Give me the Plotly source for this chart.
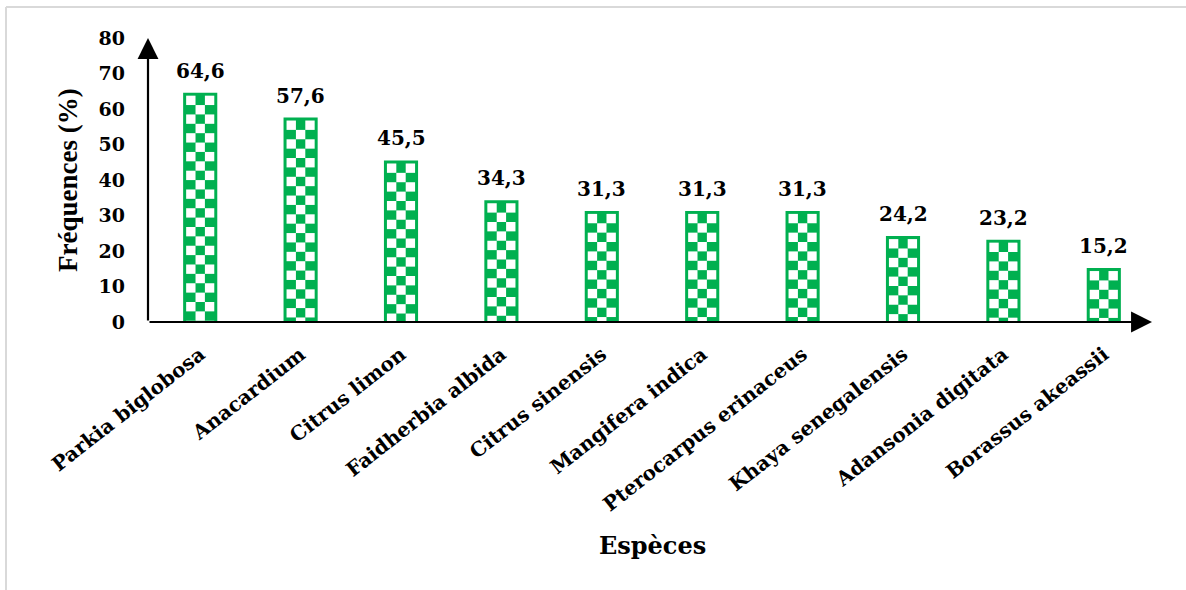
import plotly.graph_objects as go

# Species frequencies (%)
especes = ["Parkia biglobosa", "Anacardium", "Citrus limon", "Faidherbia albida",
           "Citrus sinensis", "Mangifera indica", "Pterocarpus erinaceus",
           "Khaya senegalensis", "Adansonia digitata", "Borassus akeassii"]
frequences = [64.6, 57.6, 45.5, 34.3, 31.3, 31.3, 31.3, 24.2, 23.2, 15.2]
y_ticks = [0, 10, 20, 30, 40, 50, 60, 70, 80]

W, H = 1186, 590
ML, MR, MT, MB = 148, 32, 38, 268
X0, X1 = -0.52, 9.5
Y0, Y1 = 0, 80
GREEN = "#00b050"
BAR_W = 0.34
SERIF_B = "DejaVu Serif"

plot_w = W - ML - MR
plot_h = H - MT - MB
px_x = plot_w / (X1 - X0)
px_y = plot_h / (Y1 - Y0)

fig = go.Figure()
fig.add_trace(go.Bar(
    x=list(range(len(especes))), y=frequences, width=BAR_W,
    marker=dict(color=GREEN, line=dict(width=0)),
    hoverinfo="skip", showlegend=False,
))

shapes = []
# checkerboard fill inside each bar (white cells over the green bar)
border_px = 3.0
ncols = 3
cell_px = (BAR_W * px_x - 2 * border_px) / ncols
cw = cell_px / px_x
ch = cell_px / px_y
for i, v in enumerate(frequences):
    top = v - border_px / px_y
    left = i - BAR_W / 2 + border_px / px_x
    k = 0
    while top - k * ch > 0:
        y_hi = top - k * ch
        y_lo = max(y_hi - ch, 0)
        for c in range(ncols):
            if (k + c) % 2 == 0:
                shapes.append(dict(type="rect", xref="x", yref="y",
                                   x0=left + c * cw, x1=left + (c + 1) * cw,
                                   y0=y_lo, y1=y_hi,
                                   fillcolor="white", line=dict(width=0),
                                   layer="above"))
        k += 1

# light grey frame (left and top edges)
fx = lambda px: (px - ML) / plot_w
fy = lambda py: (H - MB - py) / plot_h
shapes.append(dict(type="line", xref="paper", yref="paper",
                   x0=fx(6), x1=fx(6), y0=fy(7), y1=fy(H + 5),
                   line=dict(color="#d9d9d9", width=2)))
shapes.append(dict(type="line", xref="paper", yref="paper",
                   x0=fx(6), x1=fx(W + 5), y0=fy(7), y1=fy(7),
                   line=dict(color="#d9d9d9", width=2)))

annotations = []
# value labels
for i, v in enumerate(frequences):
    annotations.append(dict(x=i, y=v, xref="x", yref="y",
                            text=f"{v:.1f}".replace(".", ","),
                            showarrow=False, yanchor="bottom", yshift=8,
                            font=dict(family=SERIF_B, size=20, color="black",
                                      weight="bold")))
# axes drawn as arrows
annotations.append(dict(x=X0, y=Y1, ax=X0, ay=Y0, xref="x", yref="y",
                        axref="x", ayref="y", text="", showarrow=True,
                        arrowhead=2, arrowsize=1.9, arrowwidth=2.2,
                        arrowcolor="black", standoff=0))
annotations.append(dict(x=X1 - 0.02, y=Y0, ax=X0, ay=Y0, xref="x", yref="y",
                        axref="x", ayref="y", text="", showarrow=True,
                        arrowhead=2, arrowsize=1.9, arrowwidth=2.2,
                        arrowcolor="black", standoff=0))
# axis titles
annotations.append(dict(x=fx(68), y=0.5, xref="paper", yref="paper",
                        xanchor="center", yanchor="middle",
                        text="Fréquences (%)", textangle=-90, showarrow=False,
                        font=dict(family="Liberation Serif", size=27,
                                  color="black", weight="bold")))
annotations.append(dict(x=fx(652), y=fy(545), xref="paper", yref="paper",
                        xanchor="center", yanchor="middle",
                        text="Espèces", showarrow=False,
                        font=dict(family=SERIF_B, size=24, color="black",
                                  weight="bold")))

fig.update_layout(
    width=W, height=H,
    margin=dict(l=ML, r=MR, t=MT, b=MB),
    paper_bgcolor="white", plot_bgcolor="white",
    shapes=shapes, annotations=annotations,
    xaxis=dict(range=[X0, X1], tickmode="array",
               tickvals=list(range(len(especes))), ticktext=especes,
               tickangle=-38, ticks="", ticklabelstandoff=16,
               showgrid=False, zeroline=False, showline=False,
               tickfont=dict(family=SERIF_B, size=20, color="black",
                             weight="bold")),
    yaxis=dict(range=[Y0, Y1], tickmode="array", tickvals=y_ticks,
               ticks="", ticklabelstandoff=22,
               showgrid=False, zeroline=False, showline=False,
               tickfont=dict(family=SERIF_B, size=19, color="black",
                             weight="bold")),
    bargap=0.66,
)

fig.write_html("out.html")
